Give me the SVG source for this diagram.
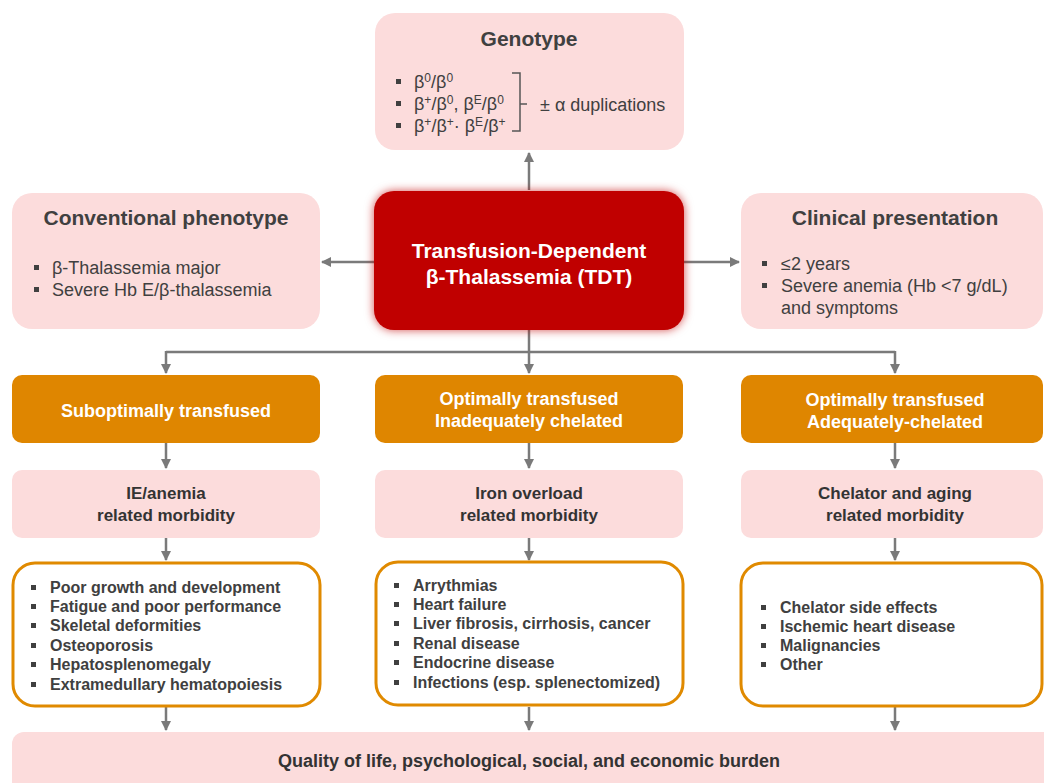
<svg xmlns="http://www.w3.org/2000/svg" width="1044" height="783" viewBox="0 0 1044 783">
<style>
text{font-family:"Liberation Sans",Arial,sans-serif;fill:#404040}
.pink{fill:#fcdcdc}
.org{fill:#df8600}
.wbox{fill:#fff;stroke:#e08a00;stroke-width:3}
.ttl{font-size:21px;font-weight:bold;text-anchor:middle}
.bl{font-size:18px}
.wt{fill:#fff;font-weight:bold;font-size:18px;text-anchor:middle}
.pt{font-size:17px;font-weight:bold;text-anchor:middle;fill:#333}
.li{font-size:16px;font-weight:bold}
.sq{fill:#404040}
.sup{font-size:12px}
.con{stroke:#7a7a7a;stroke-width:2.5;fill:none}
</style>
<defs>
<marker id="ah" markerUnits="userSpaceOnUse" markerWidth="12" markerHeight="12" refX="9" refY="5" orient="auto">
<path d="M0,0 L10,5 L0,10 Z" fill="#7a7a7a"/>
</marker>
<filter id="glow" x="-20%" y="-20%" width="140%" height="140%">
<feDropShadow dx="0" dy="0" stdDeviation="5" flood-color="#c00000" flood-opacity="0.7"/>
</filter>
</defs>

<g id="connectors">
<line class="con" x1="529" y1="190" x2="529" y2="153" marker-end="url(#ah)"/>
<line class="con" x1="374" y1="262" x2="322" y2="262" marker-end="url(#ah)"/>
<line class="con" x1="684" y1="262" x2="739" y2="262" marker-end="url(#ah)"/>
<line class="con" x1="529" y1="330" x2="529" y2="352"/>
<line class="con" x1="166" y1="352" x2="895" y2="352"/>
<line class="con" x1="166" y1="351" x2="166" y2="373" marker-end="url(#ah)"/>
<line class="con" x1="529" y1="351" x2="529" y2="373" marker-end="url(#ah)"/>
<line class="con" x1="895" y1="351" x2="895" y2="373" marker-end="url(#ah)"/>
<line class="con" x1="166" y1="443" x2="166" y2="468" marker-end="url(#ah)"/>
<line class="con" x1="529" y1="443" x2="529" y2="468" marker-end="url(#ah)"/>
<line class="con" x1="895" y1="443" x2="895" y2="468" marker-end="url(#ah)"/>
<line class="con" x1="166" y1="538" x2="166" y2="560" marker-end="url(#ah)"/>
<line class="con" x1="529" y1="538" x2="529" y2="560" marker-end="url(#ah)"/>
<line class="con" x1="895" y1="538" x2="895" y2="560" marker-end="url(#ah)"/>
<line class="con" x1="166" y1="707" x2="166" y2="730" marker-end="url(#ah)"/>
<line class="con" x1="529" y1="707" x2="529" y2="730" marker-end="url(#ah)"/>
<line class="con" x1="895" y1="707" x2="895" y2="730" marker-end="url(#ah)"/>
</g>

<g id="genotype">
<rect class="pink" x="375" y="13" width="309" height="137" rx="20"/>
<text class="ttl" x="529" y="46">Genotype</text>
<rect class="sq" x="396" y="79" width="5" height="5"/>
<rect class="sq" x="396" y="101" width="5" height="5"/>
<rect class="sq" x="396" y="123" width="5" height="5"/>
<text class="bl" x="414" y="88">β<tspan class="sup" dy="-6">0</tspan><tspan dy="6">/β</tspan><tspan class="sup" dy="-6">0</tspan></text>
<text class="bl" x="414" y="110">β<tspan class="sup" dy="-6">+</tspan><tspan dy="6">/β</tspan><tspan class="sup" dy="-6">0</tspan><tspan dy="6">, β</tspan><tspan class="sup" dy="-6">E</tspan><tspan dy="6">/β</tspan><tspan class="sup" dy="-6">0</tspan></text>
<text class="bl" x="414" y="132">β<tspan class="sup" dy="-6">+</tspan><tspan dy="6">/β</tspan><tspan class="sup" dy="-6">+</tspan><tspan dy="6">· β</tspan><tspan class="sup" dy="-6">E</tspan><tspan dy="6">/β</tspan><tspan class="sup" dy="-6">+</tspan></text>
<path d="M512,73 H520 V131 H512 M520,104 H527" stroke="#555" stroke-width="1.5" fill="none"/>
<text class="bl" x="540" y="111">± α duplications</text>
</g>

<g id="tdt">
<rect x="374" y="191" width="310" height="139" rx="20" fill="#c00000" filter="url(#glow)"/>
<text class="wt" style="font-size:21px" x="529" y="258">Transfusion-Dependent</text>
<text class="wt" style="font-size:21px" x="529" y="284">β-Thalassemia (TDT)</text>
</g>

<g id="phenotype">
<rect class="pink" x="12" y="193" width="308" height="136" rx="20"/>
<text class="ttl" x="166" y="225">Conventional phenotype</text>
<rect class="sq" x="34" y="265" width="5" height="5"/>
<rect class="sq" x="34" y="287" width="5" height="5"/>
<text class="bl" x="52" y="274">β-Thalassemia major</text>
<text class="bl" x="52" y="296">Severe Hb E/β-thalassemia</text>
</g>

<g id="clinical">
<rect class="pink" x="741" y="193" width="302" height="136" rx="20"/>
<text class="ttl" x="895" y="225">Clinical presentation</text>
<rect class="sq" x="762" y="261" width="5" height="5"/>
<rect class="sq" x="762" y="283" width="5" height="5"/>
<text class="bl" x="781" y="270">≤2 years</text>
<text class="bl" x="781" y="292">Severe anemia (Hb &lt;7 g/dL)</text>
<text class="bl" x="781" y="314">and symptoms</text>
</g>

<g id="suboptimal">
<rect class="org" x="12" y="375" width="308" height="68" rx="10"/>
<text class="wt" x="166" y="417">Suboptimally transfused</text>
</g>
<g id="inadequate">
<rect class="org" x="375" y="375" width="308" height="68" rx="10"/>
<text class="wt" x="529" y="405">Optimally transfused</text>
<text class="wt" x="529" y="427">Inadequately chelated</text>
</g>
<g id="adequate">
<rect class="org" x="741" y="375" width="302" height="68" rx="10"/>
<text class="wt" x="895" y="406">Optimally transfused</text>
<text class="wt" x="895" y="428">Adequately-chelated</text>
</g>

<g id="ie-morbidity">
<rect class="pink" x="12" y="470" width="308" height="68" rx="10"/>
<text class="pt" x="166" y="499">IE/anemia</text>
<text class="pt" x="166" y="521">related morbidity</text>
</g>
<g id="iron-morbidity">
<rect class="pink" x="375" y="470" width="308" height="68" rx="10"/>
<text class="pt" x="529" y="499">Iron overload</text>
<text class="pt" x="529" y="521">related morbidity</text>
</g>
<g id="aging-morbidity">
<rect class="pink" x="741" y="470" width="302" height="68" rx="10"/>
<text class="pt" x="895" y="499">Chelator and aging</text>
<text class="pt" x="895" y="521">related morbidity</text>
</g>

<g id="ie-list">
<rect class="wbox" x="13" y="563" width="307" height="143" rx="22"/>
<g class="sq">
<rect x="31" y="585" width="5" height="5"/><rect x="31" y="604" width="5" height="5"/><rect x="31" y="623" width="5" height="5"/>
<rect x="31" y="643" width="5" height="5"/><rect x="31" y="662" width="5" height="5"/><rect x="31" y="682" width="5" height="5"/>
</g>
<text class="li" x="50" y="593">Poor growth and development</text>
<text class="li" x="50" y="612">Fatigue and poor performance</text>
<text class="li" x="50" y="631">Skeletal deformities</text>
<text class="li" x="50" y="651">Osteoporosis</text>
<text class="li" x="50" y="670">Hepatosplenomegaly</text>
<text class="li" x="50" y="690">Extramedullary hematopoiesis</text>
</g>

<g id="iron-list">
<rect class="wbox" x="376" y="562" width="307" height="143" rx="22"/>
<g class="sq">
<rect x="394" y="583" width="5" height="5"/><rect x="394" y="602" width="5" height="5"/><rect x="394" y="621" width="5" height="5"/>
<rect x="394" y="641" width="5" height="5"/><rect x="394" y="660" width="5" height="5"/><rect x="394" y="680" width="5" height="5"/>
</g>
<text class="li" x="413" y="591">Arrythmias</text>
<text class="li" x="413" y="610">Heart failure</text>
<text class="li" x="413" y="629">Liver fibrosis, cirrhosis, cancer</text>
<text class="li" x="413" y="649">Renal disease</text>
<text class="li" x="413" y="668">Endocrine disease</text>
<text class="li" x="413" y="688">Infections (esp. splenectomized)</text>
</g>

<g id="aging-list">
<rect class="wbox" x="741" y="563" width="301" height="143" rx="22"/>
<g class="sq">
<rect x="761" y="605" width="5" height="5"/><rect x="761" y="624" width="5" height="5"/>
<rect x="761" y="643" width="5" height="5"/><rect x="761" y="662" width="5" height="5"/>
</g>
<text class="li" x="780" y="613">Chelator side effects</text>
<text class="li" x="780" y="632">Ischemic heart disease</text>
<text class="li" x="780" y="651">Malignancies</text>
<text class="li" x="780" y="670">Other</text>
</g>

<g id="burden">
<rect class="pink" x="12" y="732" width="1050" height="70" rx="12"/>
<text class="pt" style="font-size:18px" x="529" y="767">Quality of life, psychological, social, and economic burden</text>
</g>
</svg>
